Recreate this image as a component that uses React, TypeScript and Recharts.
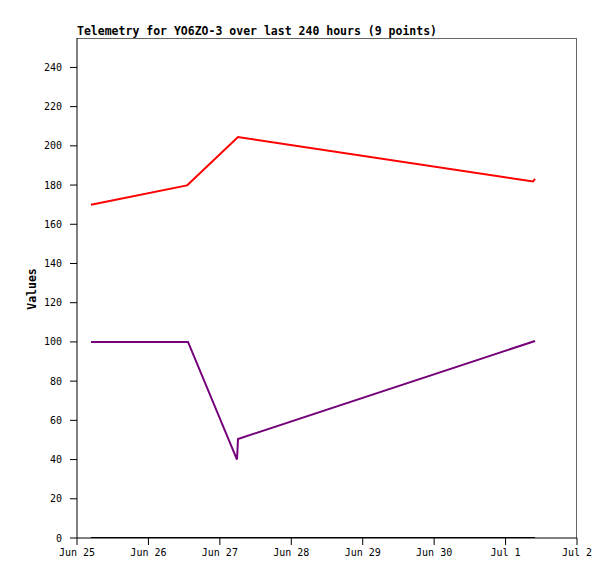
import { LineChart, Line, XAxis, YAxis } from "recharts"

const DAY = 24 * 3600 * 1000
const START = Date.UTC(2024, 5, 25)

// hours since Jun 25 00:00
const hours = [4.7, 36.96, 37.3, 53.76, 54.1, 153.2, 153.9]
const redValues = [170, 179.8, 180.3, null, 204.5, 181.8, 183.2]
const purpleValues = [100, null, 100, 40, 50.5, null, 100.5]
const blackValues = [0, null, null, null, null, null, 0]

const xTickLabels = ["Jun 25", "Jun 26", "Jun 27", "Jun 28", "Jun 29", "Jun 30", "Jul 1", "Jul 2"]
const yTicks = [0, 20, 40, 60, 80, 100, 120, 140, 160, 180, 200, 220, 240]

const data = hours.map((h, i) => ({
  t: START + h * 3600 * 1000,
  red: redValues[i],
  purple: purpleValues[i],
  black: blackValues[i],
}))

const xTicks = xTickLabels.map((_, i) => START + i * DAY)

const MONO = "'DejaVu Sans Mono', 'Liberation Mono', monospace"

export default function App() {
  return (
    <div style={{ position: "absolute", left: 0, top: 0, width: 615, height: 579, background: "#fff" }}>
      <div
        style={{
          position: "absolute",
          left: 77,
          top: 24,
          fontFamily: MONO,
          fontWeight: "bold",
          fontSize: 11.5,
          color: "#000",
          whiteSpace: "nowrap",
        }}
      >
        Telemetry for YO6ZO-3 over last 240 hours (9 points)
      </div>
      <div
        style={{
          position: "absolute",
          left: 32,
          top: 289,
          transform: "translate(-50%, -50%) rotate(-90deg)",
          fontFamily: MONO,
          fontWeight: "bold",
          fontSize: 11.5,
          color: "#000",
        }}
      >
        Values
      </div>
      {/* gray frame on top and right */}
      <div
        style={{
          position: "absolute",
          left: 77,
          top: 38,
          width: 500,
          height: 500,
          borderTop: "1px solid #666",
          borderRight: "1px solid #666",
          boxSizing: "border-box",
          pointerEvents: "none",
        }}
      />
      <LineChart width={615} height={579} data={data} margin={{ top: 38, right: 38, bottom: 11, left: 27 }}>
        <XAxis
          dataKey="t"
          type="number"
          scale="time"
          domain={[START, START + 7 * DAY]}
          ticks={xTicks}
          tickFormatter={(v) => xTickLabels[Math.round((v - START) / DAY)]}
          stroke="#000"
          tickSize={7}
          tickMargin={4}
          height={30}
          tick={{ fontFamily: MONO, fontSize: 10, fill: "#000" }}
          allowDataOverflow
        />
        <YAxis
          domain={[0, 255]}
          ticks={yTicks}
          stroke="#000"
          tickSize={7}
          tickMargin={8}
          width={50}
          tick={{ fontFamily: MONO, fontSize: 10, fill: "#000" }}
          allowDataOverflow
        />
        <Line dataKey="black" stroke="#000" strokeWidth={2} dot={false} connectNulls isAnimationActive={false} />
        <Line dataKey="purple" stroke="#74007a" strokeWidth={2} dot={false} connectNulls isAnimationActive={false} />
        <Line dataKey="red" stroke="#ff0000" strokeWidth={2} dot={false} connectNulls isAnimationActive={false} />
      </LineChart>
    </div>
  )
}
